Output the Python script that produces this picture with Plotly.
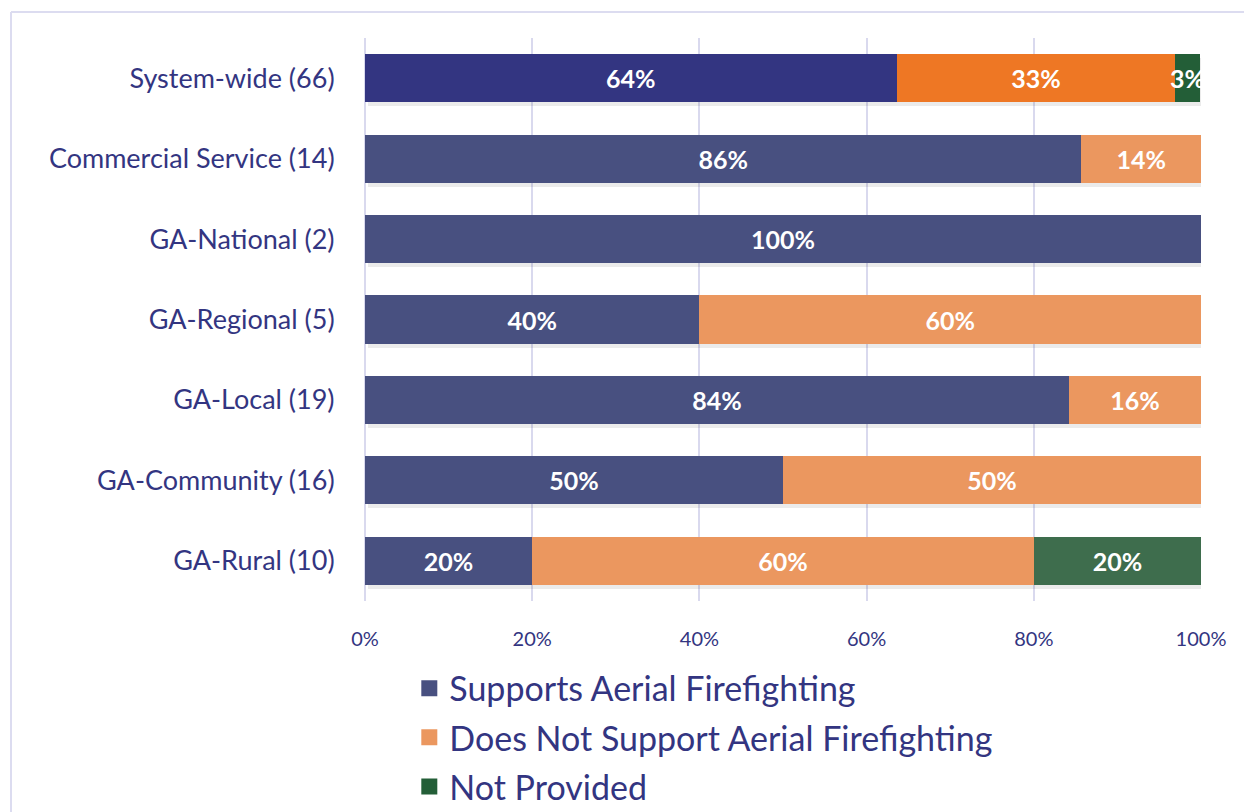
import plotly.graph_objects as go

categories = ["System-wide (66)", "Commercial Service (14)", "GA-National (2)",
              "GA-Regional (5)", "GA-Local (19)", "GA-Community (16)", "GA-Rural (10)"]
supports = [63.6, 85.7, 100, 40, 84.2, 50, 20]
not_support = [33.3, 14.3, 0, 60, 15.8, 50, 60]
not_provided = [3.0, 0, 0, 0, 0, 0, 20]
series_names = ["Supports Aerial Firefighting", "Does Not Support Aerial Firefighting", "Not Provided"]
tick_vals = [0, 20, 40, 60, 80, 100]
tick_text = ["0%", "20%", "40%", "60%", "80%", "100%"]

NAVY = "#333581"
base_colors = ["#485080", "#eb975f", "#3e6d4d"]
first_colors = ["#333581", "#ee7724", "#235e37"]
legend_colors = ["#485080", "#eb975f", "#235e37"]
FONT = "Lato"

W, H = 1252, 812
ML, MR, MT, MB = 357, 59, 30, 219
plot_w = W - ML - MR
plot_h = H - MT - MB
n = len(categories)
px_per_cat = plot_h / n
px_per_pct = plot_w / 100

fig = go.Figure()

# drop shadows (main x/y axes, shifted ranges)
totals = [a + b + c for a, b, c in zip(supports, not_support, not_provided)]
for alpha in [0.10, 0.12]:
    fig.add_trace(go.Bar(
        y=categories, x=totals, orientation="h", xaxis="x", yaxis="y",
        marker=dict(color=f"rgba(60,60,60,{alpha})", line=dict(width=0)),
        width=0.6, showlegend=False, hoverinfo="skip",
    ))

for i, (name, vals) in enumerate(zip(series_names, [supports, not_support, not_provided])):
    colors = [first_colors[i] if j == 0 else base_colors[i] for j in range(n)]
    texts = [f"{round(v)}%" if v > 0 else "" for v in vals]
    fig.add_trace(go.Bar(
        y=categories, x=vals, orientation="h", name=name, xaxis="x2", yaxis="y2",
        marker=dict(color=colors, line=dict(width=0)),
        text=texts, textposition="inside", insidetextanchor="middle", textangle=0,
        textfont=dict(family=FONT, size=25, color="white", weight="bold"),
        width=0.6, showlegend=False, cliponaxis=False,
    ))

for i, name in enumerate(series_names):
    fig.add_trace(go.Scatter(
        x=[None], y=[None], mode="markers", name=name, xaxis="x2", yaxis="y2",
        marker=dict(symbol="square", size=16, color=legend_colors[i]),
        showlegend=True, legendgroup=f"g{i}",
    ))

shift_x = 3 / px_per_pct
shift_y = 4 / px_per_cat
fig.update_layout(
    barmode="stack",
    width=W, height=H,
    margin=dict(l=ML, r=MR, t=MT, b=MB, autoexpand=False),
    paper_bgcolor="white", plot_bgcolor="white",
    font=dict(family=FONT, color=NAVY),
    uniformtext=dict(mode="show", minsize=25),
    xaxis=dict(range=[-shift_x, 100 - shift_x], visible=False, showgrid=False, zeroline=False),
    yaxis=dict(range=[n - 0.5 - shift_y, -0.5 - shift_y], visible=False, showgrid=False),
    xaxis2=dict(overlaying="x", range=[0, 100], tickvals=tick_vals, ticktext=tick_text,
                side="bottom",
                showgrid=True, gridcolor="#d9d9ee", gridwidth=1.5,
                zeroline=True, zerolinecolor="#d9d9ee", zerolinewidth=1.5,
                tickfont=dict(size=20, color=NAVY),
                ticks="outside", ticklen=20, tickcolor="rgba(0,0,0,0)", showline=False),
    yaxis2=dict(overlaying="y", side="left", range=[n - 0.5, -0.5],
                tickfont=dict(size=27, color=NAVY),
                ticks="outside", ticklen=24, tickcolor="rgba(0,0,0,0)", showgrid=False),
    legend=dict(x=0.053, y=-0.104, xanchor="left", yanchor="top",
                font=dict(size=34, color=NAVY), traceorder="grouped", tracegroupgap=2,
                bgcolor="rgba(0,0,0,0)", itemwidth=30),
    bargap=0.4,
    shapes=[
        dict(type="line", xref="paper", yref="paper",
             x0=(3 - ML) / plot_w, x1=(W - ML) / plot_w + 0.02,
             y0=1 + 26 / plot_h, y1=1 + 26 / plot_h,
             line=dict(color="#dcdcf0", width=2)),
        dict(type="line", xref="paper", yref="paper",
             x0=(3 - ML) / plot_w, x1=(3 - ML) / plot_w,
             y0=1 + 26 / plot_h, y1=-0.5,
             line=dict(color="#dcdcf0", width=2)),
    ],
)
fig.write_html("out.html")
